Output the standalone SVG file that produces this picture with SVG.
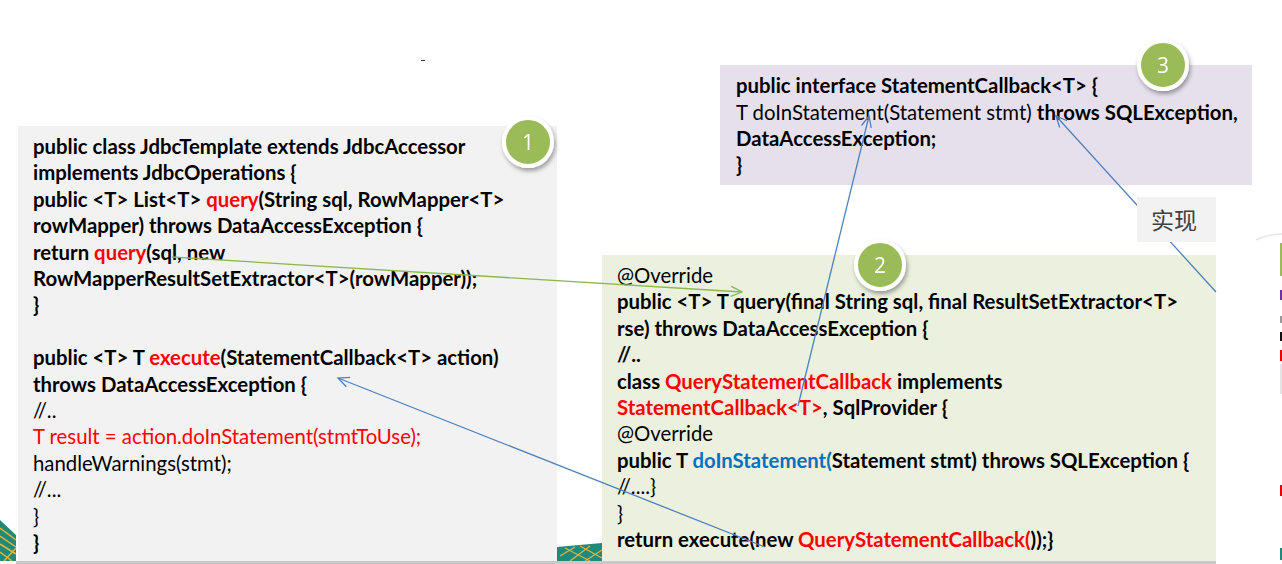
<svg xmlns="http://www.w3.org/2000/svg" width="1282" height="564" viewBox="0 0 1282 564">
<style>
.t{font-family:Lato,"Liberation Sans",sans-serif;font-size:20.35px;fill:#000}
.b{font-weight:bold}
.n{font-weight:normal}
.red{fill:#ff0000}
.blue{fill:#0070c0}
.num{font-family:"Open Sans","Liberation Sans",sans-serif;font-size:21px;fill:#fff;text-anchor:middle}
.badge{fill:#9bbb59;stroke:#fff;stroke-width:4}
.conn{fill:none;stroke-width:1.3}
</style>
<defs>
<filter id="sh" x="-50%" y="-50%" width="200%" height="200%">
<feDropShadow dx="1.5" dy="3" stdDeviation="2" flood-color="#000" flood-opacity="0.35"/>
</filter>
<marker id="ag" markerWidth="14" markerHeight="12" refX="12" refY="6" orient="auto" markerUnits="userSpaceOnUse">
<path d="M1,1 L12,6 L1,11" fill="none" stroke="#8cb84a" stroke-width="1.3"/>
</marker>
<marker id="ab" markerWidth="14" markerHeight="12" refX="12" refY="6" orient="auto" markerUnits="userSpaceOnUse">
<path d="M1,1 L12,6 L1,11" fill="none" stroke="#4f81bd" stroke-width="1.3"/>
</marker>
</defs>
<rect width="1282" height="564" fill="#fff"/>
<!-- decorations -->
<g id="decor">
<polygon points="0,520 16,535 16,561 0,561" fill="#1f8a7a"/>
<path d="M0,528 L16,540 M0,536 L16,547 M0,544 L16,554 M0,552 L12,561 M4,561 L16,548" stroke="#e8b43a" stroke-width="1.5"/>
<polygon points="557,547 602,543 602,561 557,561" fill="#1f8a7a"/>
<path d="M560,556 L575,547 M570,561 L590,546 M585,561 L602,550 M565,548 L590,561 M580,546 L602,558" stroke="#d9b640" stroke-width="1.2"/>
<rect x="16" y="561" width="1200" height="3" fill="#c8c8c8"/>
<line x1="421" y1="60.5" x2="425" y2="60.5" stroke="#333" stroke-width="1"/>
<path d="M1256,240 Q1268,234 1282,234" fill="none" stroke="#e6e6e6" stroke-width="1.5"/>
<rect x="1280" y="243" width="2" height="33" fill="#9bbb59"/>
<rect x="1280" y="290" width="2" height="10" fill="#7030a0"/>
<rect x="1280" y="316" width="2" height="7" fill="#999"/>
<rect x="1280" y="332" width="2" height="9" fill="#111"/>
<rect x="1280" y="350" width="2" height="11" fill="#e00"/>
<rect x="1280" y="364" width="2" height="30" fill="#e4e4e4"/>
<rect x="1280" y="485" width="2" height="11" fill="#e00"/>
<rect x="1280" y="548" width="2" height="12" fill="#1f8a7a"/>
</g>
<g id="box1">
<rect x="18" y="126" width="539" height="435" fill="#f2f2f2"/>
<text class="t b" x="33" y="154">public class JdbcTemplate extends JdbcAccessor</text>
<text class="t b" x="33" y="180.4">implements JdbcOperations {</text>
<text class="t b" x="33" y="206.8">public &lt;T&gt; List&lt;T&gt; <tspan class="red">query</tspan>(String sql, RowMapper&lt;T&gt;</text>
<text class="t b" x="33" y="233.2">rowMapper) throws DataAccessException {</text>
<text class="t b" x="33" y="259.6">return <tspan class="red">query</tspan>(sql, new</text>
<text class="t b" x="33" y="286">RowMapperResultSetExtractor&lt;T&gt;(rowMapper));</text>
<text class="t b" x="33" y="312.4">}</text>
<text class="t b" x="33" y="365.2">public &lt;T&gt; T <tspan class="red">execute</tspan>(StatementCallback&lt;T&gt; action)</text>
<text class="t b" x="33" y="391.6">throws DataAccessException {</text>
<text class="t n" x="33" y="418">//..</text>
<text class="t n red" x="33" y="444.4">T result = action.doInStatement(stmtToUse);</text>
<text class="t n" x="33" y="470.8">handleWarnings(stmt);</text>
<text class="t n" x="33" y="497.2">//...</text>
<text class="t n" x="33" y="523.6">}</text>
<text class="t b" x="33" y="550">}</text>
</g>
<g id="box2">
<rect x="602" y="255" width="614" height="306" fill="#ebf1de"/>
<text class="t n" x="617" y="283">@Override</text>
<text class="t b" x="617" y="309.4">public &lt;T&gt; T query(final String sql, final ResultSetExtractor&lt;T&gt;</text>
<text class="t b" x="617" y="335.8">rse) throws DataAccessException {</text>
<text class="t b" x="617" y="362.2">//..</text>
<text class="t b" x="617" y="388.6">class <tspan class="red">QueryStatementCallback</tspan> implements</text>
<text class="t b" x="617" y="415"><tspan class="red">StatementCallback&lt;T&gt;</tspan>, SqlProvider {</text>
<text class="t n" x="617" y="441.4">@Override</text>
<text class="t b" x="617" y="467.8">public T <tspan class="blue">doInStatement(</tspan>Statement stmt) throws SQLException {</text>
<text class="t n" x="617" y="494.2">//....}</text>
<text class="t n" x="617" y="520.6">}</text>
<text class="t b" x="617" y="547">return execute(new <tspan class="red">QueryStatementCallback(</tspan>));}</text>
</g>
<g id="box3">
<rect x="720" y="65" width="532" height="120" fill="#e6e0ec"/>
<text class="t b" x="736" y="93">public interface StatementCallback&lt;T&gt; {</text>
<text class="t n" x="736" y="119.5">T doInStatement(Statement stmt) <tspan class="b">throws SQLException,</tspan></text>
<text class="t b" x="736" y="146">DataAccessException;</text>
<text class="t b" x="736" y="172">}</text>
</g>
<g id="connectors">
<line class="conn" x1="172" y1="257" x2="742" y2="292" stroke="#8cb84a" marker-end="url(#ag)"/>
<line class="conn" x1="765" y1="547" x2="338" y2="378" stroke="#4f81bd" marker-end="url(#ab)"/>
<line class="conn" x1="798" y1="406" x2="869" y2="116" stroke="#4f81bd" marker-end="url(#ab)"/>
<line class="conn" x1="1216" y1="292" x2="1056" y2="116" stroke="#4f81bd" marker-end="url(#ab)"/>
</g>
<g id="label-impl">
<rect x="1137" y="197" width="79" height="45" fill="#f2f2f2"/>
<text x="1151" y="229" style="font-family:'Noto Sans CJK SC',sans-serif;font-size:23px;fill:#404040">实现</text>
</g>
<g id="badge1" filter="url(#sh)">
<circle class="badge" cx="528" cy="142" r="24"/>
<text class="num" x="528" y="149.5">1</text>
</g>
<g id="badge2" filter="url(#sh)">
<circle class="badge" cx="880" cy="265" r="24"/>
<text class="num" x="880" y="272.5">2</text>
</g>
<g id="badge3" filter="url(#sh)">
<circle class="badge" cx="1163" cy="65" r="24"/>
<text class="num" x="1163" y="72.5">3</text>
</g>
</svg>
